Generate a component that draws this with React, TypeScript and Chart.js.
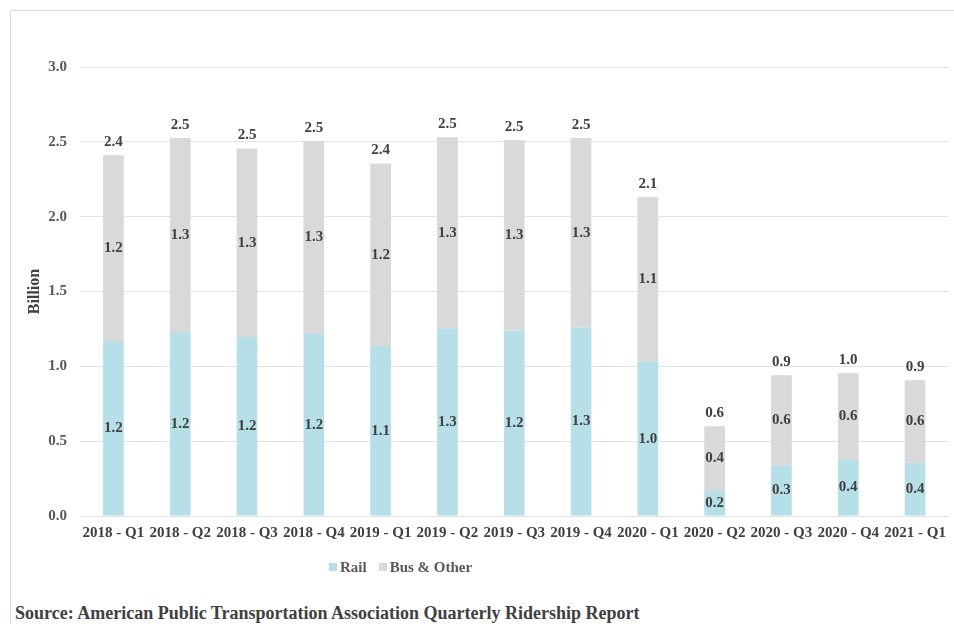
import React, { useEffect, useRef } from 'react';
import { Chart, registerables } from 'chart.js';

Chart.register(...registerables);

const categories = [
  '2018 - Q1', '2018 - Q2', '2018 - Q3', '2018 - Q4',
  '2019 - Q1', '2019 - Q2', '2019 - Q3', '2019 - Q4',
  '2020 - Q1', '2020 - Q2', '2020 - Q3', '2020 - Q4', '2021 - Q1',
];
const railValues = [1.17, 1.23, 1.196, 1.216, 1.136, 1.255, 1.24, 1.26, 1.03, 0.167, 0.336, 0.376, 0.355];
const busValues = [1.24, 1.295, 1.26, 1.29, 1.22, 1.275, 1.27, 1.265, 1.1, 0.433, 0.604, 0.577, 0.552];
const seriesNames = ['Rail', 'Bus & Other'];
const seriesColors = ['#b6dfe7', '#d9d9d9'];
const yMin = 0;
const yMax = 3;
const yStep = 0.5;
const yTitle = 'Billion';
const sourceText = 'Source: American Public Transportation Association Quarterly Ridership Report';

const SERIF = '"Liberation Serif", "Times New Roman", serif';

const labelPlugin = {
  id: 'valueLabels',
  afterDatasetsDraw(chart: any) {
    const ctx = chart.ctx;
    ctx.save();
    ctx.font = `bold 15px ${SERIF}`;
    ctx.fillStyle = '#404040';
    ctx.textAlign = 'center';
    ctx.textBaseline = 'middle';
    chart.data.datasets.forEach((ds: any, di: number) => {
      const meta = chart.getDatasetMeta(di);
      meta.data.forEach((bar: any, i: number) => {
        const v = ds.data[i] as number;
        const p = bar.getProps(['x', 'y', 'base'], true);
        ctx.fillText(v.toFixed(1), p.x, (p.y + p.base) / 2);
      });
    });
    const yScale = chart.scales.y;
    const meta0 = chart.getDatasetMeta(0);
    categories.forEach((_, i) => {
      const total = railValues[i] + busValues[i];
      const x = meta0.data[i].x;
      ctx.fillText(total.toFixed(1), x, yScale.getPixelForValue(total) - 13);
    });
    ctx.restore();
  },
};

export default function App() {
  const canvasRef = useRef<HTMLCanvasElement | null>(null);

  useEffect(() => {
    if (!canvasRef.current) return;
    const chart = new Chart(canvasRef.current, {
      type: 'bar',
      data: {
        labels: categories,
        datasets: [
          {
            label: seriesNames[0],
            data: railValues,
            backgroundColor: seriesColors[0],
            barPercentage: 0.31,
            categoryPercentage: 1,
          },
          {
            label: seriesNames[1],
            data: busValues,
            backgroundColor: seriesColors[1],
            barPercentage: 0.31,
            categoryPercentage: 1,
          },
        ],
      },
      options: {
        animation: false,
        responsive: false,
        maintainAspectRatio: false,
        layout: { padding: { top: 67, right: 3, bottom: 14, left: 0 } },
        plugins: {
          legend: { display: false },
          tooltip: { enabled: false },
        },
        scales: {
          x: {
            stacked: true,
            grid: { display: false, drawTicks: false },
            border: { display: false },
            ticks: {
              color: '#404040',
              font: { family: SERIF, size: 15, weight: 'bold' },
              padding: 8,
              maxRotation: 0,
              autoSkip: false,
            },
            afterFit: (s: any) => {
              s.height = 30;
            },
          },
          y: {
            stacked: true,
            min: yMin,
            max: yMax,
            ticks: {
              stepSize: yStep,
              color: '#595959',
              font: { family: SERIF, size: 15, weight: 'bold' },
              padding: 13,
              callback: (v: any) => Number(v).toFixed(1),
            },
            grid: { color: '#e3e3e3', lineWidth: 1, drawTicks: false },
            border: { display: false },
            title: {
              display: true,
              text: yTitle,
              color: '#404040',
              font: { family: SERIF, size: 16, weight: 'bold' },
              padding: { top: 25, bottom: 0 },
            },
            afterFit: (s: any) => {
              s.width = 80;
            },
          },
        },
      },
      plugins: [labelPlugin],
    } as any);
    return () => chart.destroy();
  }, []);

  return (
    <div
      style={{
        position: 'fixed',
        left: 0,
        top: 0,
        width: 954,
        height: 624,
        background: '#ffffff',
        overflow: 'hidden',
        fontFamily: SERIF,
      }}
    >
      <div
        style={{
          position: 'absolute',
          left: 10,
          top: 10,
          width: 980,
          height: 660,
          borderLeft: '1px solid #d9d9d9',
          borderTop: '1px solid #d9d9d9',
        }}
      />
      <canvas
        ref={canvasRef}
        width={954}
        height={560}
        style={{ position: 'absolute', left: 0, top: 0, width: 954, height: 560 }}
      />
      <div
        style={{
          position: 'absolute',
          left: 329,
          top: 558,
          height: 18,
          display: 'flex',
          alignItems: 'center',
          fontWeight: 'bold',
          fontSize: 15,
          color: '#595959',
        }}
      >
        {seriesNames.map((name, i) => (
          <div key={name} style={{ display: 'flex', alignItems: 'center', marginRight: 12 }}>
            <span
              style={{
                display: 'inline-block',
                width: 8,
                height: 8,
                background: seriesColors[i],
                marginRight: 3,
              }}
            />
            <span>{name}</span>
          </div>
        ))}
      </div>
      <div
        style={{
          position: 'absolute',
          left: 15,
          top: 602,
          lineHeight: '22px',
          fontWeight: 'bold',
          fontSize: 18,
          color: '#404040',
          whiteSpace: 'nowrap',
        }}
      >
        {sourceText}
      </div>
    </div>
  );
}
